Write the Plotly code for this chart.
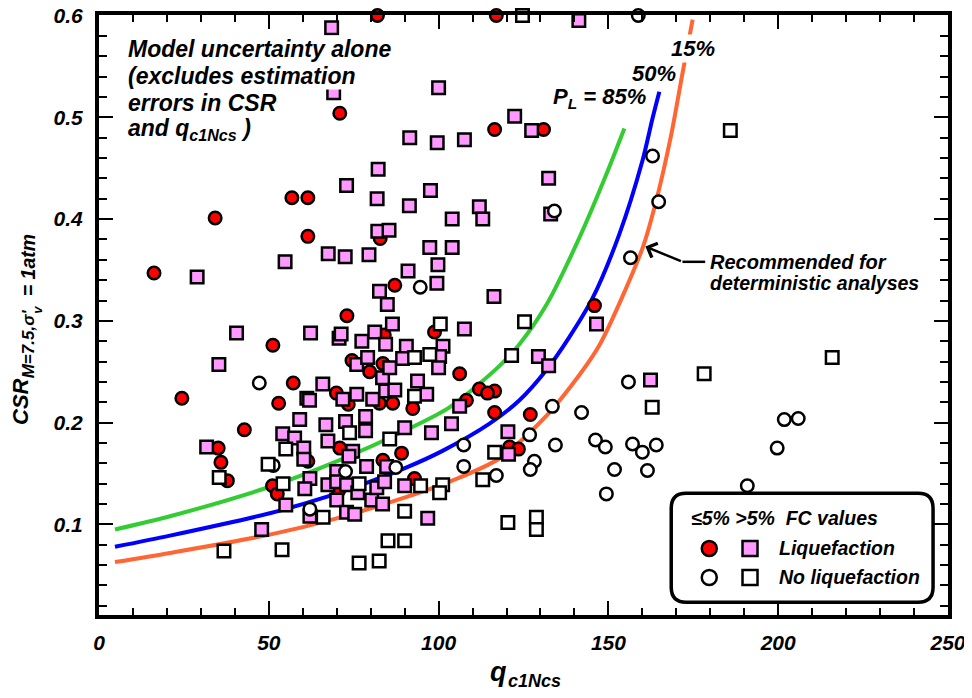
import plotly.graph_objects as go

# ---------------- data ----------------
# Liquefaction, FC <= 5%  (red filled circles)
liq_clean_x = [82, 117, 16.2, 34.2, 56.8, 61.5, 61.5, 70.9, 87.1, 73, 51.2, 82.8, 98.8, 116.5, 130.9, 145.9,
               24.4, 42.8, 35.1, 35.9, 37.8, 57.2, 52.9, 51.1, 52.5, 69.9, 73.4, 79.7, 83.6, 82.6, 86.5, 70.9,
               83.6, 89.1, 92.4, 92.9, 106.2, 112, 116.5, 116.5, 108.2, 127, 120.9, 123.5, 74.5, 84, 114.4,
               61.5, 70.5]
liq_clean_y = [0.600, 0.600, 0.347, 0.401, 0.421, 0.421, 0.383, 0.504, 0.335, 0.305, 0.276, 0.381, 0.289, 0.488,
               0.488, 0.315, 0.224, 0.193, 0.175, 0.161, 0.143, 0.239, 0.219, 0.138, 0.130, 0.229, 0.218, 0.250,
               0.258, 0.219, 0.219, 0.175, 0.163, 0.170, 0.214, 0.145, 0.248, 0.233, 0.231, 0.210, 0.222, 0.208,
               0.176, 0.174, 0.261, 0.286, 0.229, 0.162, 0.133]

# Liquefaction, FC > 5%  (pink filled squares)
liq_fines_x = [68.5, 69.1, 100, 91.5, 99.6, 107.6, 82.2, 72.9, 97.6, 81.9, 91.4, 112, 113, 104, 82.1, 85.4, 97.4,
               104, 67.5, 72.5, 79.5, 54.8, 28.9, 99.8, 91, 82.6, 99.5, 84.9, 116.3, 40.5, 62.3, 70.7, 71.3,
               77.4, 81.2, 86.4, 107.6, 84.4, 90.5, 101.3,
               141.3, 122.4, 127.4, 132.4, 133, 146.5, 129.4, 132.4, 162.4, 120.4, 120.6,
               35.3, 65.9, 61.2, 62, 71.8, 75.9, 80.6, 84.4, 87.1, 93.8, 96.5, 83.5, 75.9, 79.1, 85.6, 89.4,
               100.3, 100, 106.2, 103.8, 97.9, 90, 78.5, 78.5, 72.6, 66.8, 67.4, 59.1, 54.1, 57.6, 60.3, 60.3,
               74.7, 73.6, 78.8, 70, 62.1, 60.6, 67.4, 70, 72.9, 76.2, 80.3, 81.8, 84.1, 83.5, 70, 72.9, 75.3,
               55, 62.1, 47.9, 31.7, 90, 96.8, 84.7]
liq_fines_y = [0.588, 0.524, 0.529, 0.480, 0.475, 0.478, 0.449, 0.433, 0.428, 0.420, 0.413, 0.412, 0.400, 0.400,
               0.388, 0.389, 0.372, 0.372, 0.366, 0.363, 0.365, 0.358, 0.343, 0.355, 0.349, 0.329, 0.337, 0.316,
               0.324, 0.288, 0.288, 0.283, 0.287, 0.280, 0.289, 0.297, 0.292, 0.277, 0.275, 0.275,
               0.595, 0.501, 0.487, 0.440, 0.405, 0.297, 0.265, 0.256, 0.242, 0.191, 0.169,
               0.257, 0.238, 0.224, 0.222, 0.223, 0.228, 0.223, 0.231, 0.232, 0.241, 0.228, 0.244, 0.257, 0.264,
               0.254, 0.263, 0.265, 0.254, 0.216, 0.199, 0.190, 0.195, 0.206, 0.192, 0.201, 0.198, 0.182, 0.203,
               0.189, 0.185, 0.175, 0.164, 0.172, 0.167, 0.157, 0.152, 0.145, 0.135, 0.139, 0.142, 0.139, 0.131,
               0.124, 0.136, 0.142, 0.120, 0.124, 0.112, 0.110, 0.119, 0.108, 0.095, 0.176, 0.138, 0.106, 0.157]

# No liquefaction, FC <= 5%  (open circles)
noliq_clean_x = [158.8, 94.6, 163, 164.8, 156.5, 134.1, 47.2, 51.3, 62.1, 72.6, 87.4, 107.4, 107.4, 117, 133.5,
                 126.8, 134.4, 128.2, 127, 142.1, 146.2, 149.1, 151.8, 149.4, 155.9, 157.1, 160, 164.1, 161.5,
                 199.7, 201.8, 205.9, 190.9]
noliq_clean_y = [0.600, 0.333, 0.462, 0.417, 0.362, 0.408, 0.239, 0.158, 0.115, 0.152, 0.156, 0.178, 0.157,
                 0.148, 0.216, 0.188, 0.178, 0.162, 0.154, 0.210, 0.183, 0.176, 0.154, 0.130, 0.240, 0.179,
                 0.171, 0.178, 0.153, 0.175, 0.203, 0.204, 0.138]

# No liquefaction, FC > 5%  (open squares)
noliq_fines_x = [124.7, 185.9, 215.9, 178.2, 162.9, 121.5, 116.5, 113, 120.4, 128.8, 128.8, 125.3, 100.5, 35.4,
                 36.8, 53.9, 76.6, 82.5, 85.1, 90, 90, 66, 54.2, 55, 49.8, 73.8, 85.6, 92.9, 92.9, 97.4, 76.6,
                 94.7, 101.2, 100.3]
noliq_fines_y = [0.600, 0.487, 0.264, 0.248, 0.215, 0.266, 0.171, 0.144, 0.102, 0.107, 0.095, 0.299, 0.297,
                 0.146, 0.074, 0.075, 0.062, 0.064, 0.084, 0.084, 0.113, 0.107, 0.140, 0.174, 0.159, 0.190,
                 0.184, 0.226, 0.264, 0.267, 0.140, 0.138, 0.139, 0.131]

# Probability curves
pl85_x = [4.7, 20.9, 50.3, 70, 90.6, 103.2, 118, 123.8, 131.8, 141.5, 149.4, 154.7]
pl85_y = [0.095, 0.108, 0.137, 0.162, 0.193, 0.215, 0.256, 0.277, 0.316, 0.382, 0.444, 0.489]
pl50_x = [4.7, 20.9, 50.3, 67.9, 80.6, 90.6, 101, 115, 123.8, 131.8, 138.5, 145.3, 153.2, 160, 163, 165]
pl50_y = [0.078, 0.089, 0.111, 0.128, 0.143, 0.156, 0.172, 0.199, 0.222, 0.252, 0.284, 0.322, 0.385, 0.457,
          0.499, 0.525]
pl15_x = [4.7, 20.9, 50.3, 70, 90.6, 104, 118, 131.8, 141.5, 147.5, 160, 164, 168.5, 171.8, 174.8]
pl15_y = [0.063, 0.072, 0.090, 0.106, 0.127, 0.143, 0.165, 0.207, 0.247, 0.277, 0.371, 0.417, 0.483, 0.543,
          0.596]

x_ticks = [0, 50, 100, 150, 200, 250]
y_ticks = [0.1, 0.2, 0.3, 0.4, 0.5, 0.6]

# ---------------- styling ----------------
FONT = "Arial, Liberation Sans, sans-serif"
RED = "#ff0000"
PINK = "#ff99ff"

fig = go.Figure()

for xs, ys, col in [(pl85_x, pl85_y, "#33cc33"), (pl50_x, pl50_y, "#0000ff"), (pl15_x, pl15_y, "#ff6633")]:
    fig.add_trace(go.Scatter(x=xs, y=ys, mode="lines", line=dict(color=col, width=4, shape="spline", smoothing=0.8),
                             showlegend=False, hoverinfo="skip"))

mk_line = dict(color="black", width=2.5)
fig.add_trace(go.Scatter(x=liq_clean_x, y=liq_clean_y, mode="markers", cliponaxis=False, showlegend=False,
                         marker=dict(symbol="circle", size=12.5, color=RED, line=mk_line)))
fig.add_trace(go.Scatter(x=liq_fines_x, y=liq_fines_y, mode="markers", cliponaxis=False, showlegend=False,
                         marker=dict(symbol="square", size=12.5, color=PINK, line=mk_line)))
fig.add_trace(go.Scatter(x=noliq_clean_x, y=noliq_clean_y, mode="markers", cliponaxis=False, showlegend=False,
                         marker=dict(symbol="circle", size=12.5, color="white", line=mk_line)))
fig.add_trace(go.Scatter(x=noliq_fines_x, y=noliq_fines_y, mode="markers", cliponaxis=False, showlegend=False,
                         marker=dict(symbol="square", size=12.5, color="white", line=mk_line)))

tickfont = dict(family=FONT, size=21, color="black", weight="bold", style="italic")
axis_common = dict(showline=True, linewidth=4, linecolor="black", mirror="ticks", ticks="inside",
                   ticklen=14, tickwidth=2, tickcolor="black", showgrid=False, zeroline=False,
                   tickfont=tickfont, ticklabeloverflow="allow")

fig.update_xaxes(range=[0, 250], tickvals=x_ticks, ticktext=[str(v) for v in x_ticks],
                 minor=dict(ticks="inside", ticklen=7, tickwidth=2, tickcolor="black", dtick=10, tick0=0),
                 ticklabelstandoff=6, **axis_common)
fig.update_yaxes(range=[0.011, 0.6005], tickvals=y_ticks, ticktext=[f"{v:.1f}" for v in y_ticks],
                 minor=dict(ticks="inside", ticklen=8, tickwidth=2, tickcolor="black", dtick=0.02, tick0=0),
                 ticklabelstandoff=8, **axis_common)


def F(size):
    return dict(family=FONT, color="black", weight="bold", style="italic", size=size)


annotations = []
# y-axis title, built from parts (main text, subscript, sub-subscript)
for txt, size, xs, yp in [("CSR", 22, -79.0, 0.355), ("M=7.5,σ'", 17, -70.5, 0.452),
                          ("v", 13, -61.5, 0.508), ("= 1atm", 19.5, -71.0, 0.583)]:
    annotations.append(dict(xref="paper", yref="paper", x=0, y=yp, xshift=xs, textangle=-90,
                            showarrow=False, xanchor="center", yanchor="middle", text=txt, font=F(size),
                            borderpad=0))
# x-axis title parts
annotations.append(dict(xref="paper", yref="paper", x=0.470, y=0, yshift=-57, showarrow=False,
                        xanchor="center", yanchor="middle", text="q", font=F(27)))
annotations.append(dict(xref="paper", yref="paper", x=0.5135, y=0, yshift=-66, showarrow=False,
                        xanchor="center", yanchor="middle", text="c1Ncs", font=F(18)))

# explanatory text block (one annotation per line)
for txt, yv in [("Model uncertainty alone", 0.567), ("(excludes estimation", 0.541),
                ("errors in CSR", 0.514), ("and q<sub>c1Ncs</sub> )", 0.488)]:
    annotations.append(dict(x=8.2, y=yv, xanchor="left", yanchor="middle", showarrow=False, bgcolor="white",
                            borderpad=0, text=txt, font=F(23)))

annotations += [
    dict(x=161.8, y=0.519, xanchor="right", yanchor="middle", showarrow=False,
         text="P<sub>L</sub> = 85%", font=F(22)),
    dict(x=170.6, y=0.543, xanchor="right", yanchor="middle", showarrow=False, text="50%", font=F(22)),
    dict(x=182, y=0.568, xanchor="right", yanchor="middle", showarrow=False, bgcolor="white",
         text="15%", font=F(22)),
    dict(x=179.2, y=0.358, xanchor="left", yanchor="middle", showarrow=False, text="Recommended for",
         font=F(20)),
    dict(x=179.2, y=0.337, xanchor="left", yanchor="middle", showarrow=False, text="deterministic analyses",
         font=F(19.5)),
    dict(x=160.9, y=0.373, ax=171.8, ay=0.358, axref="x", ayref="y", text="", showarrow=True,
         arrowhead=4, arrowsize=1.2, arrowwidth=2.5, arrowcolor="black", standoff=0),
    # legend text
    dict(x=173.8, y=0.106, xanchor="left", yanchor="middle", showarrow=False,
         text="≤5% >5%  FC values", font=F(19.5)),
    dict(x=199.5, y=0.0765, xanchor="left", yanchor="middle", showarrow=False, text="Liquefaction", font=F(19.5)),
    dict(x=199.5, y=0.048, xanchor="left", yanchor="middle", showarrow=False, text="No liquefaction",
         font=F(19.5)),
]


def rounded_rect(x0, y0, x1, y1, rx, ry):
    return (f"M{x0 + rx},{y0} L{x1 - rx},{y0} Q{x1},{y0} {x1},{y0 + ry} "
            f"L{x1},{y1 - ry} Q{x1},{y1} {x1 - rx},{y1} L{x0 + rx},{y1} "
            f"Q{x0},{y1} {x0},{y1 - ry} L{x0},{y0 + ry} Q{x0},{y0} {x0 + rx},{y0} Z")


shapes = [
    dict(type="line", x0=171.8, y0=0.358, x1=178.5, y1=0.358, line=dict(color="black", width=2.5)),
    dict(type="path", path=rounded_rect(168.5, 0.0236, 245.6, 0.1305, 4.4, 0.0147),
         line=dict(color="black", width=3.5), fillcolor="white", layer="above"),
]
# legend keys
for kx, ky, kind, col in [(179.7, 0.0763, "circle", RED), (191.7, 0.0763, "rect", PINK),
                          (179.7, 0.0478, "circle", "white"), (191.7, 0.0478, "rect", "white")]:
    shapes.append(dict(type=kind, xsizemode="pixel", ysizemode="pixel", xanchor=kx, yanchor=ky,
                       x0=-7.5, x1=7.5, y0=-7.5, y1=7.5, fillcolor=col, line=dict(color="black", width=2.5),
                       layer="above"))

# page body has an 8px default margin, so the figure is 8px smaller than the window
fig.update_layout(width=964, height=690, margin=dict(l=91, r=24, t=7, b=83, autoexpand=False),
                  paper_bgcolor="white", plot_bgcolor="white", showlegend=False,
                  annotations=annotations, shapes=shapes, font=dict(family=FONT, color="black"))

fig.write_html("out.html")
